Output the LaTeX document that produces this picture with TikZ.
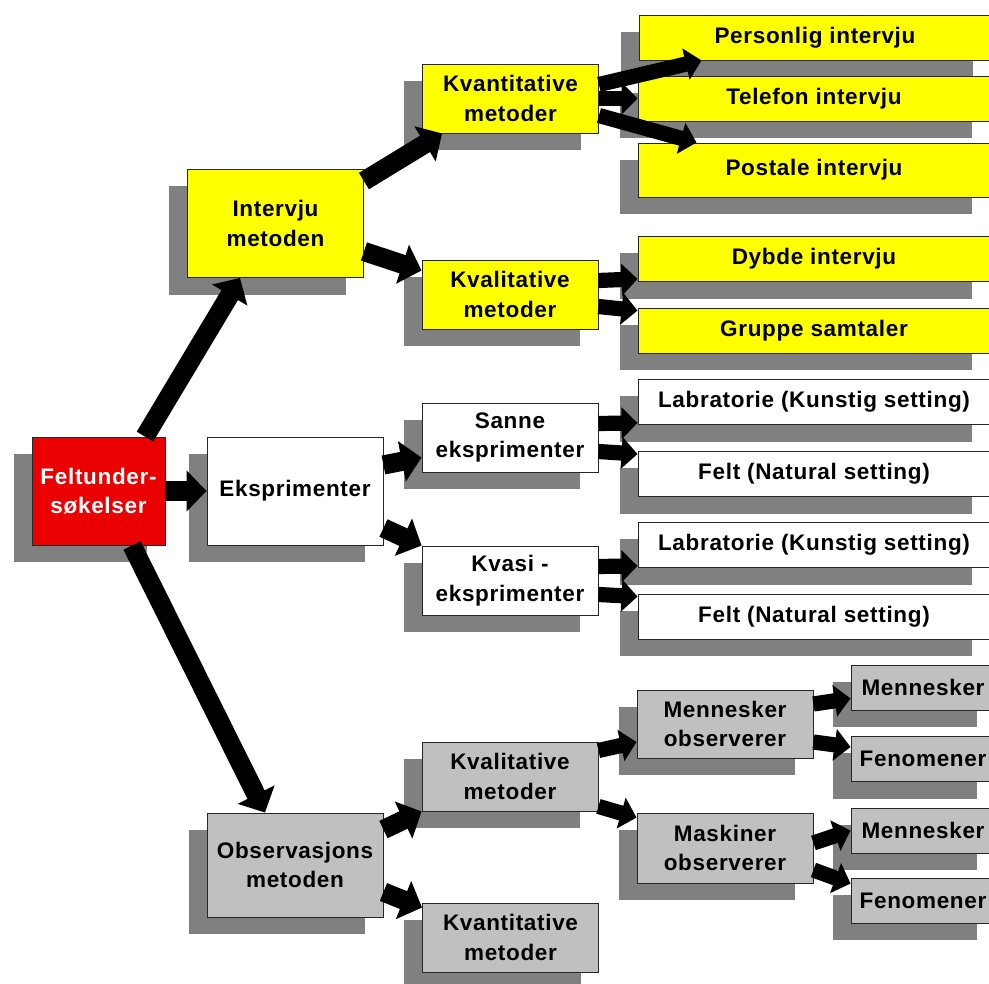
\documentclass[tikz,border=0pt]{standalone}
\usepackage{fontspec}
\setmainfont{Liberation Sans}[LetterSpace=3]
\usetikzlibrary{arrows.meta,shadows}

\definecolor{boxyellow}{RGB}{255,255,0}
\definecolor{boxred}{RGB}{235,0,0}
\definecolor{boxgray}{RGB}{192,192,192}
\definecolor{shadowgray}{RGB}{128,128,128}

\newcommand{\boxfont}{\fontsize{16}{21}\selectfont\bfseries}

\begin{document}
\begin{tikzpicture}[x=0.025cm, y=-0.025cm,
    box/.style={rectangle, draw=black!85, line width=0.6pt, align=center,
      inner sep=0pt, font=\boxfont, text=black,
      drop shadow={shadow xshift=-0.45cm, shadow yshift=-0.425cm,
        fill=shadowgray, opacity=1}},
    big/.style={box, minimum width=4.4cm, minimum height=2.7cm},
    mid/.style={box, minimum width=4.4cm, minimum height=1.725cm},
    wide/.style={box, minimum width=8.8cm, minimum height=1.125cm},
    small/.style={box, minimum width=3.6cm, minimum height=1.125cm},
    bigarr/.style={draw, line width=0.48cm, -{Triangle[length=0.5cm,width=1cm]}},
    arr/.style={draw, line width=0.38cm, -{Triangle[length=0.4cm,width=0.78cm]}}]

        \useasboundingbox (0,0) rectangle (989,984);
        \clip (0,0) rectangle (989,984);

        \begin{scope}[every node/.style={fill=boxred}]
          \node[big, minimum width=3.325cm, text=white] (1) at (98.5,491) {Feltunder-\\søkelser};
        \end{scope}

        \begin{scope}[every node/.style={fill=boxyellow}]
          \node[big]  (2)  at (275.5,223.5) {Intervju\\metoden};
          \node[mid]  (5)  at (510.5,98.5)  {Kvantitative\\metoder};
          \node[mid]  (6)  at (510,294.5)   {Kvalitative\\metoder};
          \node[wide] (11) at (815,37.5)    {Personlig intervju};
          \node[wide] (12) at (814,98.5)    {Telefon intervju};
          \node[wide, minimum height=1.35cm] (13) at (814,170) {Postale intervju};
          \node[wide] (14) at (814,259)     {Dybde intervju};
          \node[wide] (15) at (814,330.5)   {Gruppe samtaler};
        \end{scope}

        \begin{scope}[every node/.style={fill=white}]
          \node[big]  (3)  at (295,491)   {Eksprimenter};
          \node[mid]  (7)  at (510,437.5) {Sanne\\eksprimenter};
          \node[mid]  (8)  at (510,580.5) {Kvasi -\\eksprimenter};
          \node[wide] (16) at (814,402)   {Labratorie (Kunstig setting)};
          \node[wide] (17) at (814,474)   {Felt (Natural setting)};
          \node[wide] (18) at (814,545)   {Labratorie (Kunstig setting)};
          \node[wide] (19) at (814,616.5) {Felt (Natural setting)};
        \end{scope}

        \begin{scope}[every node/.style={fill=boxgray}]
          \node[big, minimum height=2.6cm] (4) at (295,865) {Observasjons\\metoden};
          \node[mid]   (9)  at (510,776.5)  {Kvalitative\\metoder};
          \node[mid]   (10) at (510.5,937.5) {Kvantitative\\metoder};
          \node[mid, minimum height=1.7cm]  (20) at (725,724) {Mennesker\\observerer};
          \node[mid, minimum height=1.75cm] (21) at (725,848) {Maskiner\\observerer};
          \node[small] (22) at (923,687.5) {Mennesker};
          \node[small] (23) at (923,759)   {Fenomener};
          \node[small] (24) at (923,830.5) {Mennesker};
          \node[small] (25) at (923,900.5) {Fenomener};
        \end{scope}

        \begin{scope}[every edge/.style={bigarr}]
          \path ([shift={(46.5,0)}]1.north) edge ([shift={(-35.5,0)}]2.south);
          \path (1.east) edge (3.west);
          \path ([shift={(33.5,0)}]1.south) edge ([shift={(-30,0)}]4.north);
          \path ([shift={(0,12)}]2.north east) edge ([shift={(20,0)}]5.south west);
          \path ([shift={(0,28)}]2.east) edge ([shift={(0,-24)}]6.west);
          \path ([shift={(0,-26)}]3.east) edge ([shift={(0,20)}]7.west);
          \path ([shift={(0,37)}]3.east) edge (8.north west);
          \path ([shift={(0,17)}]4.north east) edge (9.south west);
          \path ([shift={(0,27)}]4.east) edge ([shift={(0,5)}]10.north west);
        \end{scope}

        \begin{scope}[every edge/.style={arr}]
          \path ([shift={(0,-14)}]5.east) edge ([shift={(63,0)}]11.south west);
          \path (5.east) edge (12.west);
          \path ([shift={(0,17)}]5.east) edge ([shift={(59,0)}]13.north west);
          \path ([shift={(0,-14)}]6.east) edge ([shift={(0,-3)}]14.south west);
          \path ([shift={(0,12)}]6.east) edge ([shift={(0,3)}]15.north west);
          \path ([shift={(0,-14)}]7.east) edge ([shift={(0,-2)}]16.south west);
          \path ([shift={(0,14)}]7.east) edge ([shift={(0,3)}]17.north west);
          \path ([shift={(0,-14)}]8.east) edge ([shift={(0,-2)}]18.south west);
          \path ([shift={(0,14)}]8.east) edge ([shift={(0,3)}]19.north west);
          \path ([shift={(0,-26)}]9.east) edge ([shift={(0,18)}]20.west);
          \path ([shift={(0,-5)}]9.south east) edge ([shift={(0,5)}]21.north west);
          \path ([shift={(0,-20)}]20.east) edge ([shift={(0,-12)}]22.south west);
          \path ([shift={(0,18)}]20.east) edge ([shift={(0,-12)}]23.west);
          \path ([shift={(0,-5)}]21.east) edge (24.west);
          \path ([shift={(0,22)}]21.east) edge ([shift={(0,6)}]25.north west);
        \end{scope}

      \end{tikzpicture}
\end{document}
